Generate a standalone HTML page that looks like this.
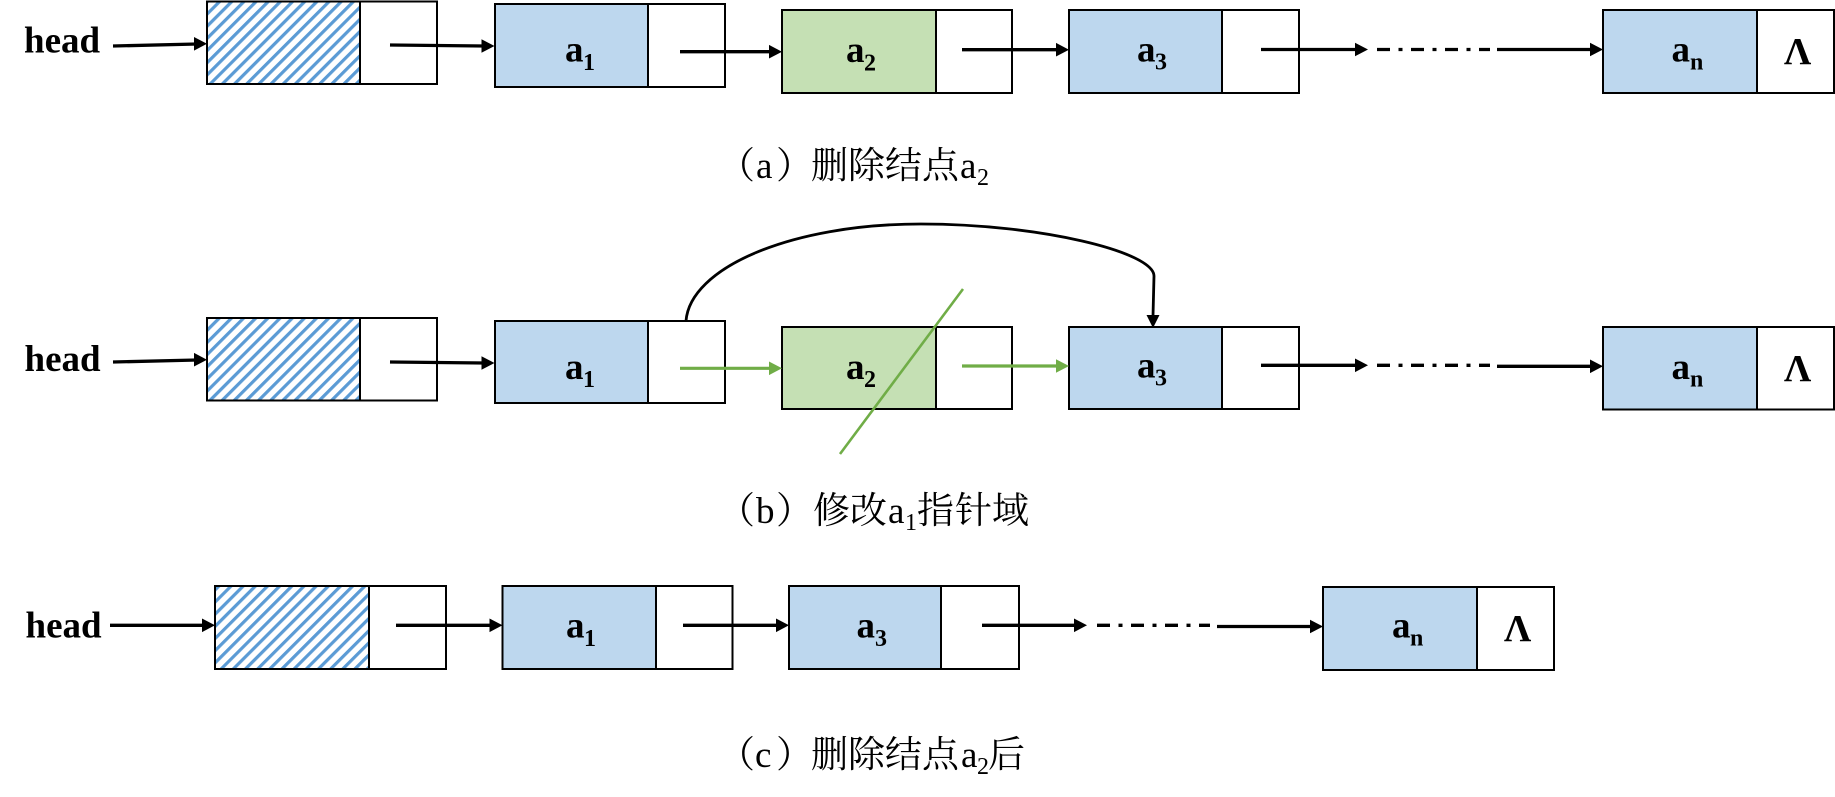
<!DOCTYPE html>
<html><head><meta charset="utf-8"><style>
html,body{margin:0;padding:0;background:#fff}
svg{display:block}
.b{font-family:"Liberation Serif",serif;font-weight:bold;fill:#000}
.m{font-size:37px}.s{font-size:24px}
.c{font-family:"Liberation Serif","Noto Serif CJK SC",serif;font-size:37px;fill:#000}
.cs{font-family:"Liberation Serif",serif;font-size:24px;fill:#000}
.box{stroke:#000;stroke-width:2;fill:#fff}
.blue{stroke:#000;stroke-width:2;fill:#bdd7ee}
.green{stroke:#000;stroke-width:2;fill:#c5e0b4}
.hat{stroke:#000;stroke-width:2;fill:url(#h)}
.l{stroke:#000;stroke-width:3.3;fill:none}
.cv{stroke:#000;stroke-width:2.8;fill:none}
.g{stroke:#70ad47;stroke-width:3.2;fill:none}
.sl{stroke:#70ad47;stroke-width:2.6;fill:none}
.d{stroke:#000;stroke-width:3.3;fill:none;stroke-dasharray:13 8.5 4 8.5}
</style></head><body>
<svg width="1835" height="797" viewBox="0 0 1835 797" xmlns="http://www.w3.org/2000/svg">
<defs>
<pattern id="h" width="8.6" height="8.6" patternUnits="userSpaceOnUse" patternTransform="rotate(-45)">
<rect width="8.6" height="8.6" fill="#fff"/><rect width="8.6" height="3.2" fill="#5b9bd5"/>
</pattern>
</defs>

<!-- Row a -->
<rect class="box" x="360" y="1.5" width="77" height="82.5"/><rect class="hat" x="207" y="1.5" width="153" height="82.5"/>
<rect class="box" x="648" y="4" width="77" height="83"/><rect class="blue" x="495" y="4" width="153" height="83"/>
<rect class="box" x="936" y="10" width="76" height="83"/><rect class="green" x="782" y="10" width="154" height="83"/>
<rect class="box" x="1222" y="10" width="77" height="83"/><rect class="blue" x="1069" y="10" width="153" height="83"/>
<rect class="box" x="1757" y="10" width="77" height="83"/><rect class="blue" x="1603" y="10" width="154" height="83"/>

<path class="l" d="M113,46 L197,44"/><path d="M207,43.8 L194,37 L194,50.600Z"/>
<path class="l" d="M390,45 L484,46"/><path d="M494.500,46 L481.500,39.200 L481.500,52.800Z"/>
<path class="l" d="M680,51.700 L772,51.700"/><path d="M782,51.700 L769,44.900 L769,58.500Z"/>
<path class="l" d="M962,49.700 L1059,49.700"/><path d="M1069,49.700 L1056,42.900 L1056,56.500Z"/>
<path class="l" d="M1261,49.500 L1358,49.500"/><path d="M1368,49.500 L1355,42.700 L1355,56.300Z"/>
<path class="d" d="M1377,49.500 L1490,49.500"/>
<path class="l" d="M1497,49.500 L1593,49.500"/><path d="M1603,49.500 L1590,42.700 L1590,56.300Z"/>

<text class="b m" x="24" y="52.500">head</text>
<text class="b m" x="565" y="61.500">a</text><text class="b s" x="583" y="69.800">1</text>
<text class="b m" x="846" y="62">a</text><text class="b s" x="864" y="70.500">2</text>
<text class="b m" x="1137" y="61.500">a</text><text class="b s" x="1155" y="69.500">3</text>
<text class="b m" x="1671.500" y="61.500">a</text><text class="b s" x="1690" y="69.500">n</text>
<text class="b" style="font-size:38px" x="1784" y="64">Λ</text>

<text class="c" x="718 756 776 811 848 885 922 960" y="178">（a）删除结点a</text><text class="cs" x="977" y="185">2</text>

<!-- Row b -->
<path class="cv" d="M686,321 C690,268 790,224 921,224 C1040,224 1154,252 1154,276 L1153,316"/>

<rect class="box" x="360" y="318" width="77" height="82.500"/><rect class="hat" x="207" y="318" width="153" height="82.500"/>
<rect class="box" x="648" y="321" width="77" height="82"/><rect class="blue" x="495" y="321" width="153" height="82"/>
<rect class="box" x="936" y="327" width="76" height="82"/><rect class="green" x="782" y="327" width="154" height="82"/>
<rect class="box" x="1222" y="327" width="77" height="82"/><rect class="blue" x="1069" y="327" width="153" height="82"/>
<rect class="box" x="1757" y="327" width="77" height="82.500"/><rect class="blue" x="1603" y="327" width="154" height="82.500"/>

<path class="l" d="M113,362 L197,360"/><path d="M207,359.700 L194,352.900 L194,366.500Z"/>
<path class="l" d="M390,362 L484,363"/><path d="M494.500,363 L481.500,356.200 L481.500,369.800Z"/>
<path class="g" d="M680,368.300 L772,368.300"/><path fill="#70ad47" d="M782,368.300 L769,361.500 L769,375.100Z"/>
<path class="g" d="M962,366 L1059,366"/><path fill="#70ad47" d="M1069,366 L1056,359.200 L1056,372.800Z"/>
<path class="l" d="M1261,365.300 L1358,365.300"/><path d="M1368,365.300 L1355,358.500 L1355,372.100Z"/>
<path class="d" d="M1377,365.300 L1490,365.300"/>
<path class="l" d="M1497,366.300 L1593,366.300"/><path d="M1603,366.300 L1590,359.500 L1590,373.100Z"/>
<path d="M1153,328 L1146.500,315 L1159.500,315Z"/>

<text class="b m" x="24.500" y="371">head</text>
<text class="b m" x="565" y="378.800">a</text><text class="b s" x="583" y="387.200">1</text>
<text class="b m" x="846" y="378.800">a</text><text class="b s" x="864" y="387.200">2</text>
<text class="b m" x="1137" y="377.500">a</text><text class="b s" x="1155" y="385.500">3</text>
<text class="b m" x="1671.500" y="378.800">a</text><text class="b s" x="1690" y="386.500">n</text>
<text class="b" style="font-size:38px" x="1784" y="381">Λ</text>
<path class="sl" d="M963,289 L840,454"/>

<text class="c" x="718 756 776 813 850 888" y="523">（b）修改a</text><text class="cs" x="905" y="530">1</text><text class="c" x="917 955 992" y="523">指针域</text>

<!-- Row c -->
<rect class="box" x="369" y="586" width="77" height="83"/><rect class="hat" x="215" y="586" width="154" height="83"/>
<rect class="box" x="656" y="586" width="76.500" height="83"/><rect class="blue" x="502.500" y="586" width="153.500" height="83"/>
<rect class="box" x="941" y="586" width="78" height="83"/><rect class="blue" x="789" y="586" width="152" height="83"/>
<rect class="box" x="1477" y="587" width="77" height="83"/><rect class="blue" x="1323" y="587" width="154" height="83"/>

<path class="l" d="M110,625.300 L205,625.300"/><path d="M215,625.300 L202,618.500 L202,632.100Z"/>
<path class="l" d="M396,625.300 L492,625.300"/><path d="M502.500,625.300 L489.500,618.500 L489.500,632.100Z"/>
<path class="l" d="M683,625.300 L779,625.300"/><path d="M789,625.300 L776,618.500 L776,632.100Z"/>
<path class="l" d="M982,625.300 L1077,625.300"/><path d="M1087,625.300 L1074,618.500 L1074,632.100Z"/>
<path class="d" d="M1097,625.300 L1210,625.300"/>
<path class="l" d="M1217,626.500 L1313,626.500"/><path d="M1323,626.500 L1310,619.700 L1310,633.300Z"/>

<text class="b m" x="25.500" y="637.500">head</text>
<text class="b m" x="566" y="637.500">a</text><text class="b s" x="584" y="646.200">1</text>
<text class="b m" x="856.500" y="637.500">a</text><text class="b s" x="875" y="646.200">3</text>
<text class="b m" x="1392" y="637.500">a</text><text class="b s" x="1410" y="645.500">n</text>
<text class="b" style="font-size:38px" x="1504" y="641">Λ</text>

<text class="c" x="718 755 776 811 848 885 922 961" y="767">（c）删除结点a</text><text class="cs" x="977" y="774">2</text><text class="c" x="988" y="767">后</text>
</svg>
</body></html>
